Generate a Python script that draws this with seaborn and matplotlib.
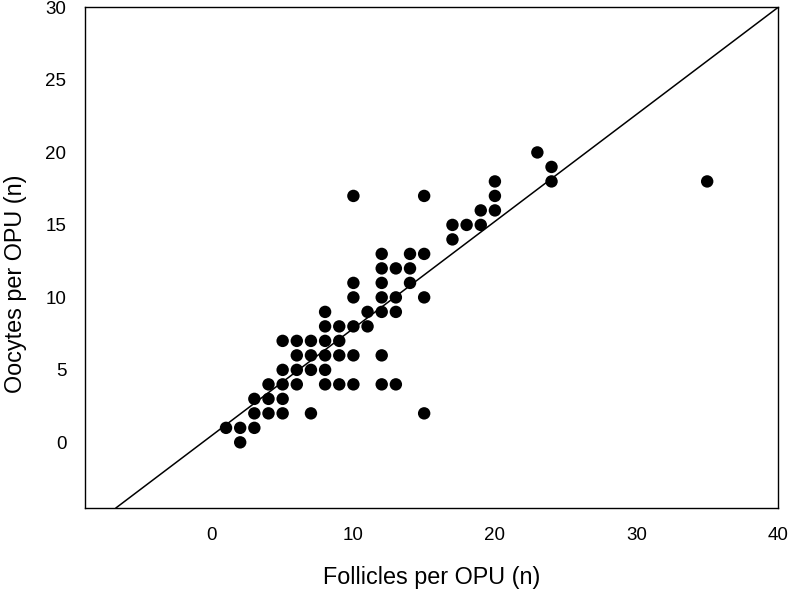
import numpy as np
import pandas as pd
import matplotlib
matplotlib.use("Agg")
import matplotlib.pyplot as plt
import seaborn as sns

# follicles / oocytes per OPU session
follicles = [1, 2, 2, 3, 3, 3, 4, 4, 4,
             5, 5, 5, 5, 5, 6, 6, 6, 6, 7, 7, 7, 7,
             8, 8, 8, 8, 8, 8, 9, 9, 9, 9,
             10, 10, 10, 10, 10, 10, 11, 11,
             12, 12, 12, 12, 12, 12, 12, 13, 13, 13, 13,
             14, 14, 14, 15, 15, 15, 15,
             17, 17, 18, 19, 19, 20, 20, 20, 23, 24, 24, 35]
oocytes = [1, 1, 0, 1, 2, 3, 2, 3, 4,
           2, 3, 4, 5, 7, 4, 5, 6, 7, 2, 5, 6, 7,
           4, 5, 6, 7, 8, 9, 4, 6, 7, 8,
           4, 6, 8, 10, 11, 17, 8, 9,
           4, 6, 9, 10, 11, 12, 13, 4, 9, 10, 12,
           11, 12, 13, 2, 10, 13, 17,
           14, 15, 15, 15, 16, 16, 17, 18, 20, 18, 19, 18]

# regression line as drawn in the figure
fit_slope = 0.738
fit_intercept = 0.48

x_ticks = [0, 10, 20, 30, 40]
y_ticks = [0, 5, 10, 15, 20, 25, 30]

df = pd.DataFrame({"follicles": follicles, "oocytes": oocytes})

sns.set_style("white")
plt.rcParams["font.family"] = ["Liberation Sans", "DejaVu Sans"]

fig = plt.figure(figsize=(7.93, 5.93), dpi=100)
ax = fig.add_axes([0.1066, 0.1433, 0.8744, 0.8441])

sns.scatterplot(data=df, x="follicles", y="oocytes", color="black",
                s=80, edgecolor="none", ax=ax, zorder=3)
ax.axline((0, fit_intercept), slope=fit_slope, color="black", lw=1.1)

ax.set_xlim(-9, 40)
ax.set_ylim(-4.53, 30)
ax.set_xticks(x_ticks)
ax.set_yticks(y_ticks)

for side in ["top", "right", "bottom", "left"]:
    ax.spines[side].set_visible(True)
    ax.spines[side].set_color("black")
    ax.spines[side].set_linewidth(1.0)

ax.tick_params(axis="both", direction="out", length=5.5, width=0.9,
               color="black", labelsize=13.5, labelcolor="black")
ax.tick_params(axis="x", pad=8)
ax.tick_params(axis="y", pad=7.5)

ax.set_xlabel("Follicles per OPU (n)", fontsize=16.8, color="black")
ax.set_ylabel("Oocytes per OPU (n)", fontsize=16.8, color="black")
ax.xaxis.set_label_coords(0.5, -0.116)
ax.yaxis.set_label_coords(-0.083, 0.448)

fig.savefig("out.png", dpi=100, facecolor="white")
